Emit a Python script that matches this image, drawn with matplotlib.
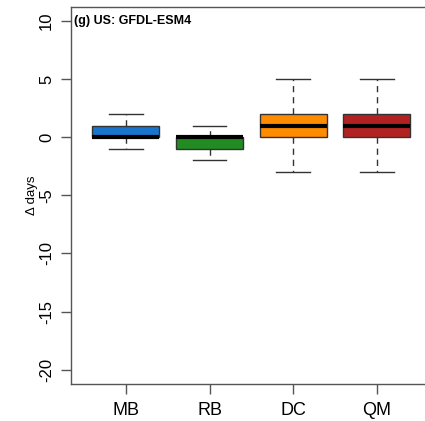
import matplotlib
matplotlib.use("Agg")
import matplotlib.pyplot as plt

plt.rcParams['font.family'] = ['Liberation Sans', 'DejaVu Sans']

methods = ['MB', 'RB', 'DC', 'QM']
colors = ['#1874CD', '#228B22', '#FF8C00', '#B22222']
# whislo, q1, med, q3, whishi
whislo = [-1, -2, -3, -3]
q1 = [0, -1, 0, 0]
med = [0, 0, 1, 1]
q3 = [1, 0, 2, 2]
whishi = [2, 1, 5, 5]

stats = []
for i in range(len(methods)):
    stats.append(dict(label=methods[i], whislo=whislo[i], q1=q1[i], med=med[i],
                      q3=q3[i], whishi=whishi[i], fliers=[]))

fig = plt.figure(figsize=(4.25, 4.21), dpi=100)
ax = fig.add_axes([0.1664, 0.0886, 0.85, 0.8948])

bp = ax.bxp(stats, positions=[1, 2, 3, 4], widths=0.8, patch_artist=True,
            showfliers=False,
            boxprops=dict(edgecolor='#333333', linewidth=1.0),
            medianprops=dict(color='black', linewidth=3.0, solid_capstyle='butt'),
            whiskerprops=dict(color='#333333', linewidth=1.0, linestyle=(0, (4.5, 3.5))),
            capprops=dict(color='#333333', linewidth=1.0),
            capwidths=0.4)
for patch, c in zip(bp['boxes'], colors):
    patch.set_facecolor(c)

ax.set_xlim(0.34, 4.66)
ax.set_ylim(-21.2, 11.2)
ax.set_yticks([-20, -15, -10, -5, 0, 5, 10])
ax.set_yticklabels(['-20', '-15', '-10', '-5', '0', '5', '10'], rotation=90, va='center')
ax.set_xticks([1, 2, 3, 4])
ax.set_xticklabels(methods)
ax.tick_params(axis='y', labelsize=12, length=7, width=1, color='#555555', pad=5)
ax.tick_params(axis='x', labelsize=13, length=7, width=1, color='#555555', pad=6)
for s in ax.spines.values():
    s.set_color('#555555')
    s.set_linewidth(1.0)
ax.spines['right'].set_visible(False)

ax.set_ylabel('Δ days', fontsize=9.5, labelpad=1)
ax.text(0.01, 10, '(g) US: GFDL-ESM4', transform=ax.get_yaxis_transform(),
        fontsize=9, fontweight='bold', va='center', ha='left')

fig.savefig('out.png', dpi=100)
